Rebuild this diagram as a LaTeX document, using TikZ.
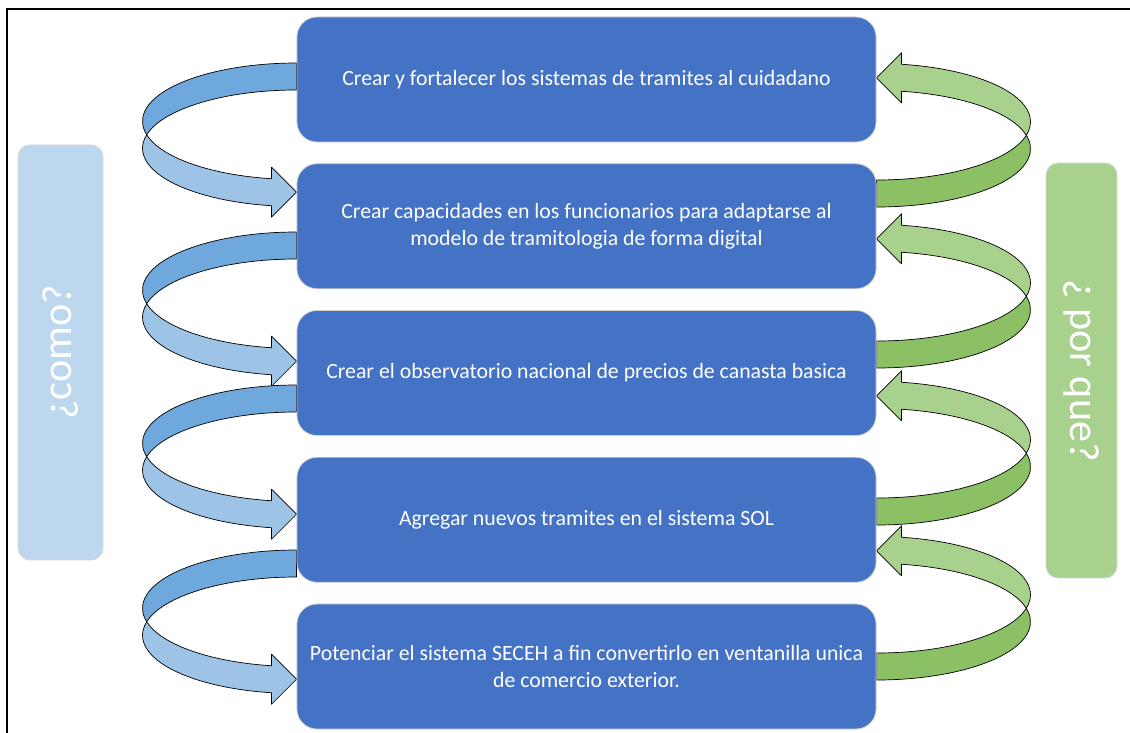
\documentclass[tikz,border=0pt]{standalone}
\usepackage{fontspec}
\setmainfont{Carlito}
\usetikzlibrary{calc,backgrounds}

\definecolor{boxblue}{HTML}{4472C4}
\definecolor{comofill}{HTML}{BDD7EE}
\definecolor{porquefill}{HTML}{A9D18E}
\definecolor{ribbonblue}{HTML}{9DC3E6}
\definecolor{ribbonbluedark}{HTML}{6FA8DC}
\definecolor{ribbongreen}{HTML}{A9D18E}
\definecolor{ribbongreendark}{HTML}{8CC065}

% one curved ribbon arrow, drawn from (0,0) = top of its back band
\newcommand\Ribbon[2]{
  \filldraw[ribbon,fill=#1] (0,0) arc[start angle=270,end angle=166.6,x radius=154,y radius=58.25]
    arc[start angle=193.4,end angle=270,x radius=154,y radius=58.25] -- cycle;
  \filldraw[ribbon,fill=#2] (-149.81,71.75) arc[start angle=166.6,end angle=99.34,x radius=154,y radius=58.25]
    -- (-25,104.23) -- (0,129.23) -- (-25,154.23) -- (-25,142.73)
    arc[start angle=99.34,end angle=193.4,x radius=154,y radius=58.25] -- cycle;
}
\newcommand\Como[2]{
  \begin{scope}[shift={($(#1.west)+(0,#2)$)}]
    \Ribbon{ribbonbluedark}{ribbonblue}
  \end{scope}
}
\newcommand\Porque[2]{
  \begin{scope}[shift={($(#1.east)+(0,#2)$)},rotate=180]
    \Ribbon{ribbongreendark}{ribbongreen}
  \end{scope}
}
\tikzstyle{box}=[rectangle,draw=gray!35,line width=0.6pt,rounded corners=0.5cm,fill=boxblue,text=white,
  minimum width=14.475cm,minimum height=3.125cm,align=center,font=\fontsize{15.5}{19.5}\selectfont]
\tikzstyle{side}=[rectangle,draw=gray!30,line width=0.6pt,rounded corners=0.3cm,text=white,
  minimum width=10.375cm,font=\fontsize{30}{36}\selectfont]
\tikzstyle{ribbon}=[draw=black,line width=0.5pt,line join=round]

\begin{document}
\begin{tikzpicture}[x=0.025cm,y=-0.025cm]
  \useasboundingbox (0,0) rectangle (1130,732);
  \node[box] (b1) at (586.5,79.5) {Crear y fortalecer los sistemas de tramites al cuidadano};
  \node[box] (b2) at (586.5,226.25) {Crear capacidades en los funcionarios para adaptarse al\\modelo de tramitologia de forma digital};
  \node[box] (b3) at (586.5,373) {Crear el observatorio nacional de precios de canasta basica};
  \node[box] (b4) at (586.5,519.75) {Agregar nuevos tramites en el sistema SOL};
  \node[box] (b5) at (586.5,666.5) {Potenciar el sistema SECEH a fin convertirlo en ventanilla unica\\de comercio exterior.};
  \node[side,fill=comofill,minimum height=2.125cm,rotate=90] (como) at (60.5,352.5) {¿como?};
  \node[side,fill=porquefill,minimum height=1.775cm,rotate=-90] (porque) at (1081.5,370.5) {¿ por que?};
  \begin{scope}[on background layer]
    \draw[line width=1.4pt] (7,740) -- (7,9) -- (1140,9);
    \Como{b1}{-16.5}
    \Como{b2}{5.75}
    \Como{b3}{12}
    \Como{b4}{30.25}
    \Porque{b2}{-19.25}
    \Porque{b3}{-5}
    \Porque{b4}{5.25}
    \Porque{b5}{13.5}
  \end{scope}
\end{tikzpicture}
\end{document}
